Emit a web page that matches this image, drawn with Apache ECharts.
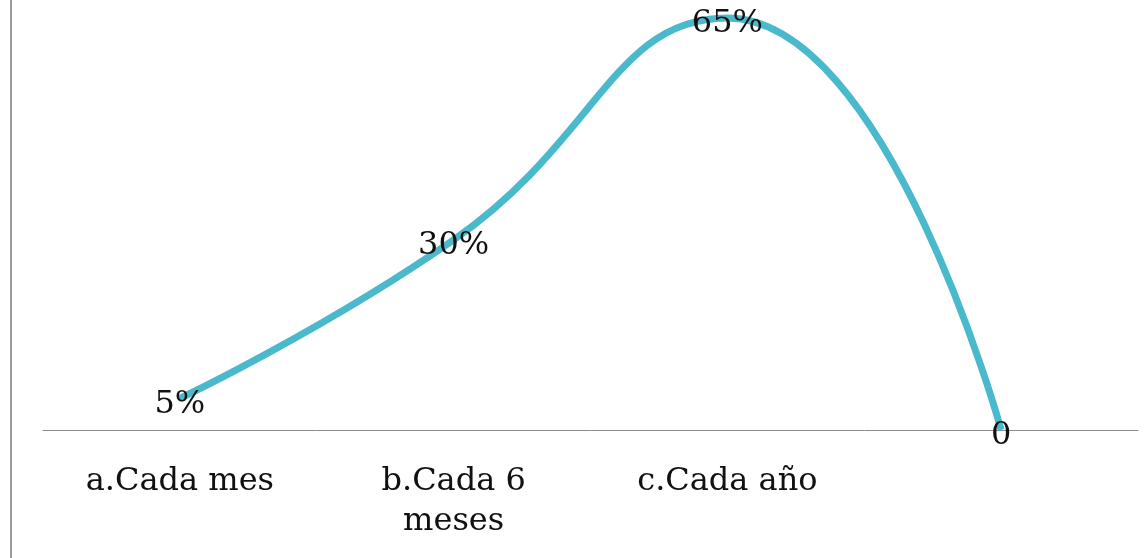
<!DOCTYPE html>
<html><head><meta charset="utf-8">
<script src="https://cdn.jsdelivr.net/npm/echarts@6/dist/echarts.min.js"></script>
<style>html,body{margin:0;padding:0;background:#fff}#c{width:1147px;height:558px}</style>
</head><body><div id="c"></div>
<script>
const categories = ["a.Cada mes", "b.Cada 6\nmeses", "c.Cada año", ""];
const values = [5, 30, 65, 0];
const pointLabels = ["5%", "30%", "65%", "0"];

const chart = echarts.init(document.getElementById('c'), null, {renderer: 'canvas'});
chart.setOption({
  animation: false,
  backgroundColor: '#fff',
  grid: {left: 43, right: 9, top: 18, bottom: 128},
  graphic: [{
    type: 'line', shape: {x1: 11, y1: 0, x2: 11, y2: 558},
    style: {stroke: '#9a9a9a', lineWidth: 2}
  }],
  xAxis: {
    type: 'category', data: categories, boundaryGap: true,
    axisLine: {lineStyle: {color: '#8c8c8c', width: 1}},
    axisTick: {show: false},
    axisLabel: {fontFamily: 'DejaVu Serif', fontSize: 32, color: '#111', margin: 32, lineHeight: 40, interval: 0}
  },
  yAxis: {type: 'value', min: 0, max: 65, show: false, splitLine: {show: false}},
  series: [{
    type: 'line', data: values, smooth: 0.5, showSymbol: true, symbol: 'circle', symbolSize: 2, clip: false,
    itemStyle: {color: '#4ab9cc'},
    lineStyle: {color: '#4ab9cc', width: 7},
    label: {
      show: true, position: 'inside', offset: [0, 6], fontFamily: 'DejaVu Serif', fontSize: 32, color: '#111',
      formatter: p => pointLabels[p.dataIndex]
    }
  }]
});
</script></body></html>
